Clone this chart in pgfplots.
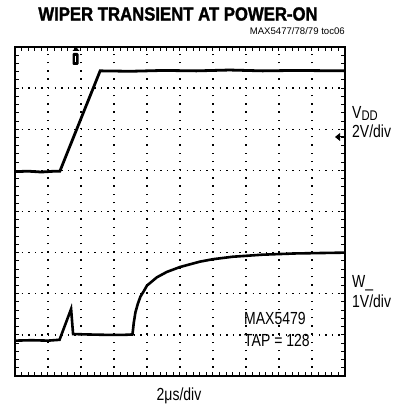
\documentclass[border=0pt]{standalone}
\usepackage{fontspec}
\setmainfont{Liberation Sans}[FakeStretch=0.8]
\newfontfamily\smallfont{Liberation Sans}
\newfontfamily\titlefont{Liberation Sans Bold}[FakeStretch=0.88,FakeBold=1.5]
\usepackage{pgfplots}
\pgfplotsset{compat=1.18}
\begin{document}
\begin{tikzpicture}
\useasboundingbox (-15pt,-32pt) rectangle (391pt,376pt);
\begin{axis}[
  scale only axis, width=330pt, height=329pt,
  anchor=south west, at={(0pt,0pt)},
  xmin=0, xmax=10, ymin=0, ymax=8,
  xtick={0,...,10}, ytick={0,...,8},
  minor x tick num=4, minor y tick num=4,
  xticklabels={}, yticklabels={},
  tick align=inside, major tick length=3.5pt, minor tick length=3.5pt,
  tick style={black, line width=1pt},
  grid=major,
  x grid style={black, line width=1.4pt, dash pattern=on 1.4pt off 6.825pt},
  y grid style={black, line width=1.4pt, dash pattern=on 1.4pt off 5.2pt},
  axis line style={line width=2pt},
  clip=false,
]
\addplot[black, line width=2.8pt] coordinates {
 (0,4.97) (0.4,4.98) (0.8,4.96) (1.2,4.98) (1.36,4.98) (2.58,7.42) (3.5,7.41) (4.5,7.43) (5.5,7.42) (6.5,7.44) (7.5,7.42) (8.5,7.43) (10,7.42)
};
\addplot[black, line width=2.6pt] coordinates {
 (0,0.86) (0.5,0.87) (1.0,0.86) (1.35,0.88) (1.7,1.63) (1.76,1.02) (2.2,1.01) (2.8,1.0) (3.3,1.0) (3.56,1.01)
 (3.6,1.3) (3.65,1.55) (3.72,1.75) (3.8,1.93) (3.9,2.06) (4.0,2.2) (4.3,2.4) (4.6,2.53) (5.0,2.65) (5.6,2.78)
 (6.0,2.84) (6.6,2.9) (7.5,2.95) (8.5,2.98) (10,3.0)
};
\end{axis}
% trigger marker
\fill[rounded corners=1.2pt] (57.5pt,311pt) rectangle (63.5pt,323pt);
\fill (57.5pt,325pt) -- (64.5pt,325pt) -- (61pt,329pt) -- cycle;
\fill[white] (59.8pt,320pt) rectangle (61.2pt,314pt);
% ground arrow
\fill (320pt,239pt) -- (325pt,235pt) -- (325pt,243pt) -- cycle;
\draw[line width=1pt] (324pt,239pt) -- (330pt,239pt);
\node[anchor=center, inner sep=0pt, font=\titlefont\fontsize{19}{19}\selectfont] at (163pt,362pt) {WIPER TRANSIENT AT POWER-ON};
\node[anchor=base east, inner sep=0pt, font=\smallfont\fontsize{9.6}{11}\selectfont] at (330pt,341pt) {MAX5477/78/79 toc06};
\begin{scope}[every node/.style={anchor=base west, inner sep=0pt, font=\fontsize{17.5}{19}\selectfont}]
\node at (337pt,257pt) {V\raisebox{-0.2ex}{\fontsize{14}{14}\selectfont DD}};
\node at (337pt,238pt) {2V/div};
\node at (337pt,88pt) {W\_};
\node at (337pt,68pt) {1V/div};
\node at (229pt,51pt) {MAX5479};
\node at (229pt,29pt) {TAP = 128};
\end{scope}
\node[anchor=base, inner sep=0pt, font=\fontsize{17.5}{19}\selectfont] at (164pt,-24pt) {2μs/div};
\end{tikzpicture}
\end{document}
